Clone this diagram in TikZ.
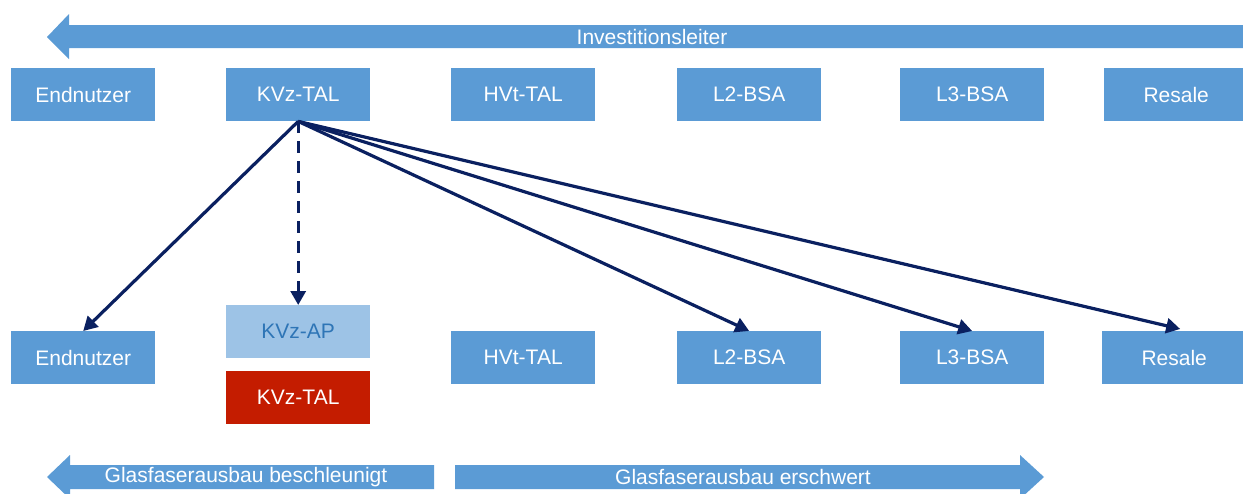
\documentclass[tikz,border=0pt]{standalone}
\usepackage{fontspec}
\setmainfont{Liberation Sans}
\usetikzlibrary{arrows.meta}
\definecolor{boxblue}{RGB}{91,155,213}
\definecolor{lightblue}{RGB}{157,195,230}
\definecolor{apblue}{RGB}{46,117,182}
\definecolor{talred}{RGB}{196,28,0}
\definecolor{navy}{RGB}{10,32,96}
\tikzset{
  stage/.style={rectangle, fill=boxblue, text=white, inner sep=0pt,
    minimum width=144pt, minimum height=53pt, anchor=north west,
    font=\fontsize{21}{25}\selectfont},
  bandtext/.style={text=white, inner sep=0pt, font=\fontsize{21}{25}\selectfont},
  band/.style={fill=boxblue},
  link/.style={draw=navy, line width=3.2pt,
    -{Triangle[length=14pt,width=15pt]}},
  linkdashed/.style={link, dash pattern=on 12pt off 8pt}
}
\begin{document}
\begin{tikzpicture}[x=1pt,y=-1pt]
\useasboundingbox (0,0) rectangle (1243,493);
\clip (0,0) rectangle (1243,493);

% investment ladder arrow (pointing left)
\fill[band] (47,37) -- (69,14) -- (69,25) -- (1243,25) -- (1243,48)
  -- (69,48) -- (69,59) -- cycle;
\node[bandtext] (ladder) at (652,37) {Investitionsleiter};

% upper row of access products
\node[stage] (t1) at (11,68)   {Endnutzer};
\node[stage] (t2) at (226,68)  {KVz-TAL};
\node[stage] (t3) at (451,68)  {HVt-TAL};
\node[stage] (t4) at (677,68)  {L2-BSA};
\node[stage] (t5) at (900,68)  {L3-BSA};
\node[stage] (t6) at (1104,68) {Resale};

% lower row
\node[stage] (b1) at (11,331)   {Endnutzer};
\node[stage, fill=lightblue, text=apblue] (b2) at (226,305) {KVz-AP};
\node[stage, fill=talred] (b2r) at (226,371) {KVz-TAL};
\node[stage] (b3) at (451,331)  {HVt-TAL};
\node[stage] (b4) at (677,331)  {L2-BSA};
\node[stage] (b5) at (900,331)  {L3-BSA};
\node[stage] (b6) at (1102,331) {Resale};

% migration paths from KVz-TAL
\draw[link] (t2.south) -- (b1.north);
\draw[linkdashed] (t2.south) -- (b2.north);
\draw[link] (t2.south) -- (b4.north);
\draw[link] (t2.south) -- (b5.north);
\draw[link] (t2.south) -- ([xshift=6pt,yshift=2pt]b6.north);

% bottom arrows
\fill[band] (47,477) -- (70,455) -- (70,465) -- (434,465) -- (434,489)
  -- (70,489) -- (70,499) -- cycle;
\node[bandtext] (fast) at (246,477) {Glasfaserausbau beschleunigt};
\fill[band] (455,465) -- (1020,465) -- (1020,455) -- (1044,477)
  -- (1020,499) -- (1020,489) -- (455,489) -- cycle;
\node[bandtext] (slow) at (743,477) {Glasfaserausbau erschwert};
\end{tikzpicture}
\end{document}
